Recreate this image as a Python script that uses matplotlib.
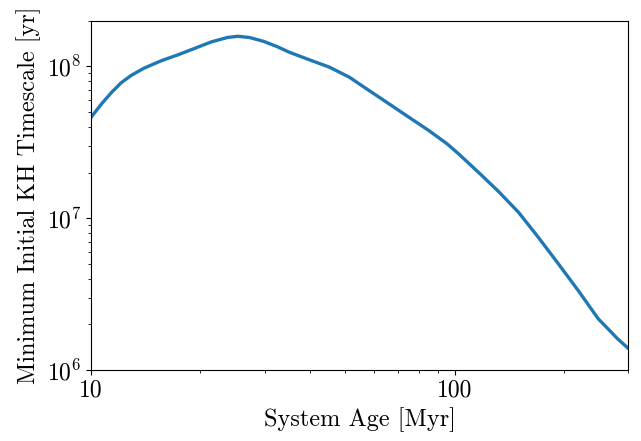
"""Minimum initial KH timescale versus system age."""

import matplotlib

matplotlib.use("Agg")
import matplotlib.pyplot as plt

plt.rcParams["font.family"] = "serif"
plt.rcParams["font.serif"] = ["cmr10"]
plt.rcParams["mathtext.fontset"] = "cm"
plt.rcParams["axes.formatter.use_mathtext"] = True

# values
age_myr = [
    10.0, 10.7, 11.4, 12.1, 12.9, 14.0, 15.6, 17.3, 19.2, 21.4, 23.7,
    25.3, 27.3, 29.9, 32.5, 35.1, 39.8, 45.2, 51.3, 58.1, 65.9, 74.8,
    84.9, 95.3, 102.6, 116.4, 132, 150, 170, 193, 219, 248, 281, 300,
]
kh_timescale_yr = [
    4.62e7, 5.68e7, 6.76e7, 7.8e7, 8.73e7, 9.75e7, 1.09e8, 1.19e8,
    1.31e8, 1.45e8, 1.55e8, 1.58e8, 1.55e8, 1.46e8, 1.35e8, 1.24e8,
    1.107e8, 9.9e7, 8.5e7, 6.95e7, 5.68e7, 4.63e7, 3.78e7, 3.09e7,
    2.65e7, 2.0e7, 1.5e7, 1.09e7, 7.46e6, 4.99e6, 3.32e6, 2.18e6,
    1.6e6, 1.39e6,
]

fig = plt.figure(figsize=(6.41, 4.41), dpi=100)
ax = fig.add_axes([0.142, 0.161, 0.838, 0.792])
ax.plot(age_myr, kh_timescale_yr, color="#1f77b4", linewidth=2.4)
ax.set_xscale("log")
ax.set_yscale("log")
ax.set_xlim(10, 300)
ax.set_ylim(1e6, 2.0e8)
ax.set_xticks([10, 100])
ax.set_xticklabels(["10", "100"])
ax.tick_params(labelsize=17)
ax.set_xlabel("System Age [Myr]", fontsize=17.5)
ax.set_ylabel("Minimum Initial KH Timescale [yr]", fontsize=17.5)

fig.savefig("out.png", dpi=100)
